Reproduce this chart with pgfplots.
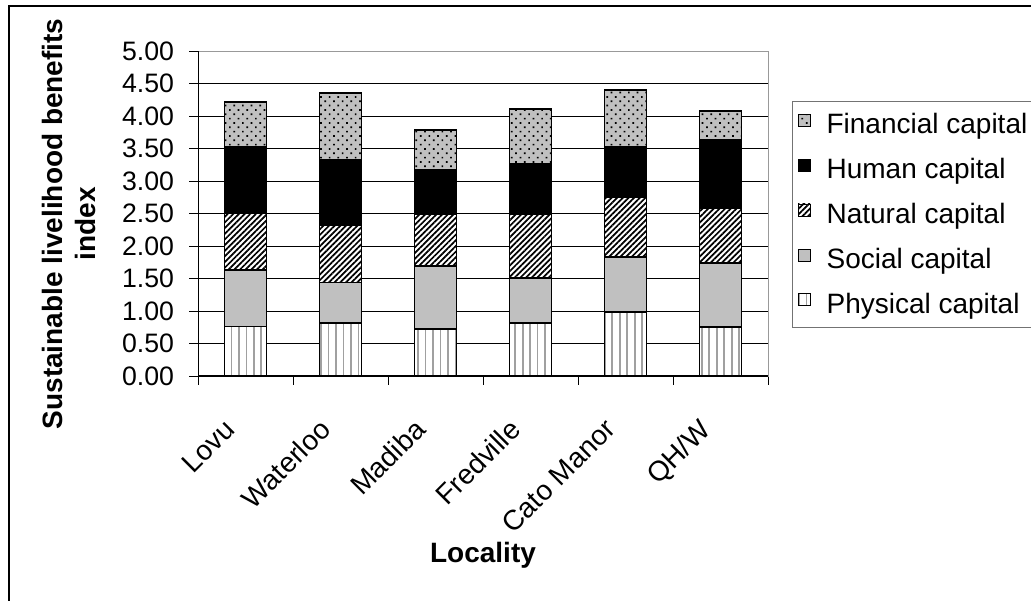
\documentclass[border=0pt]{standalone}
\usepackage{pgfplots}
\usepackage{pgfplotstable}
\pgfplotsset{compat=1.18}
\usetikzlibrary{patterns.meta}
\usepackage{fontspec}
\setmainfont{Liberation Sans}
\newcommand\fs{\fontsize{20}{24}\selectfont}
\newcommand\fl{\fontsize{21}{25}\selectfont}
\pgfplotstableread{
x phys soc nat hum fin
0 0.76 0.87 0.87 1.03 0.68
1 0.81 0.63 0.88 1.01 1.02
2 0.72 0.97 0.80 0.68 0.61
3 0.81 0.70 0.98 0.77 0.85
4 0.98 0.85 0.92 0.78 0.87
5 0.75 0.99 0.84 1.05 0.45
}\data
\definecolor{barg}{HTML}{C0C0C0}
\definecolor{lineg}{HTML}{A0A0A0}
\begin{document}
\begin{tikzpicture}[x=1pt,y=1pt]
\useasboundingbox (0,0) rectangle (773.25,450);
\draw[black, line width=0.9pt] (6.75,-20) -- (6.75,445.5) -- (800,445.5);
\begin{axis}[
  at={(148.5pt,168pt)}, anchor=south west,
  width=427.5pt, height=243.75pt, scale only axis,
  ybar stacked, bar width=31.5pt,
  xmin=-0.5, xmax=5.5, ymin=0, ymax=5,
  xtick={-0.5,0.5,...,5.5},
  x tick label as interval,
  xticklabels={Lovu,Waterloo,Madiba,Fredville,Cato Manor,QH/W},
  ytick={0,0.5,...,5},
  /pgf/number format/assume math mode=true,
  yticklabel={\pgfmathprintnumber[fixed,fixed zerofill,precision=2]{\tick}},
  tick align=outside, xtick pos=lower, ytick pos=left,
  major tick length=6.5pt,
  tick style={black, line width=0.75pt},
  axis line style={draw=gray!80, line width=0.75pt},
  ymajorgrids, grid style={black, line width=0.75pt},
  yticklabel style={font=\fs, xshift=-8pt},
  xticklabel style={font=\fl, xshift=-17pt, yshift=-21.5pt, rotate=45, anchor=north east, inner sep=2pt},
  label style={font=\fl\bfseries},
  xlabel={Locality},
  xlabel style={at={(rel axis cs:0.5,-0.553)}, anchor=center},
  ylabel={\begin{tabular}{@{}c@{}}Sustainable livelihood benefits\\index\end{tabular}},
  ylabel style={at={(rel axis cs:-0.221,0.468)}, anchor=center, inner sep=0pt},
  reverse legend,
  legend style={at={(rel axis cs:1.042,0.846)}, anchor=north west,
    draw=gray!90!black, line width=0.75pt, font=\fl, row sep=13pt,
    inner xsep=4pt, inner ysep=7pt, legend cell align=left,
    /tikz/every odd column/.append style={column sep=10pt}},
  legend image code/.code={\draw[#1, line width=0.6pt] (0pt,-1pt) rectangle (9pt,8pt);},
  every axis plot/.append style={draw=black, line width=1.3pt},
]
\addplot[fill=white, postaction={pattern={Lines[angle=90,distance=5.6pt,line width=1.3pt]}, pattern color=lineg}] table[x=x,y=phys]{\data};
\addplot[fill=barg] table[x=x,y=soc]{\data};
\addplot[fill=white, postaction={pattern={Lines[angle=45,distance=3pt,line width=1.3pt]}, pattern color=black}] table[x=x,y=nat]{\data};
\addplot[fill=black] table[x=x,y=hum]{\data};
\addplot[fill=barg, postaction={pattern={Dots[distance=4.6pt,radius=0.9pt,angle=45]}, pattern color=black}] table[x=x,y=fin]{\data};
\legend{Physical capital,Social capital,Natural capital,Human capital,Financial capital}
\draw[black, line width=1pt] (rel axis cs:0,1) -- (rel axis cs:0,0) -- (rel axis cs:1,0);
\draw[gray!80, line width=0.75pt] (rel axis cs:0,1) -- (rel axis cs:1,1) -- (rel axis cs:1,0);
\end{axis}
\end{tikzpicture}
\end{document}
